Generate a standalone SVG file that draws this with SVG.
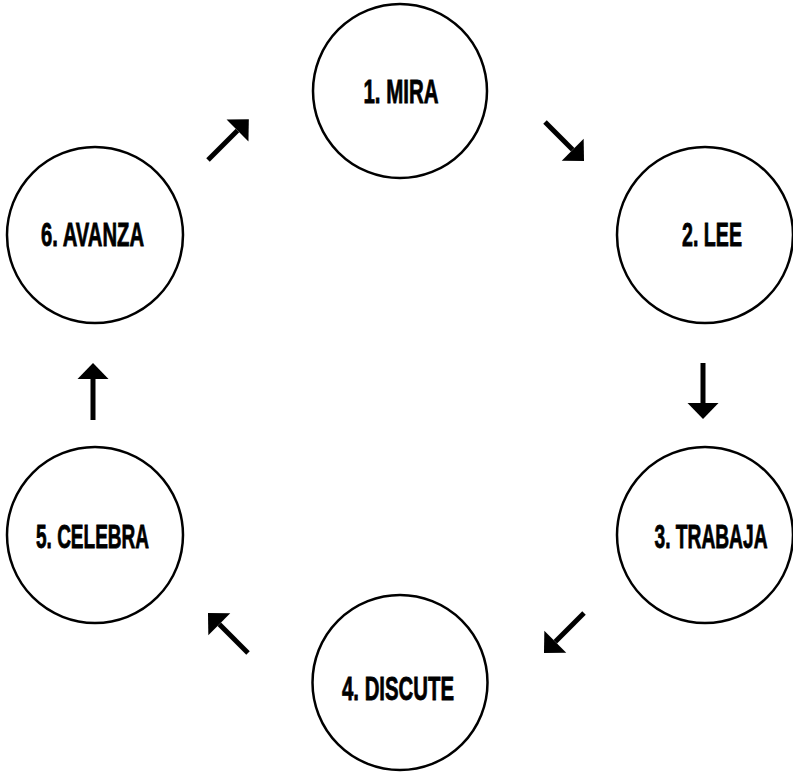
<svg xmlns="http://www.w3.org/2000/svg" width="793" height="772" viewBox="0 0 793 772">
<style>
.node circle{fill:#fff;stroke:#000;stroke-width:2.5}
.node text{font-family:"Liberation Sans",Arial,sans-serif;font-weight:bold;font-size:33px;fill:#000;stroke:#000;stroke-width:0.8;text-anchor:middle}
.conn line{stroke:#000;stroke-width:5;fill:none;marker-end:url(#head)}
</style>
<defs>
<marker id="head" markerUnits="userSpaceOnUse" viewBox="0 -16 16 32" refX="0" refY="0" markerWidth="16" markerHeight="32" orient="auto" overflow="visible">
<path d="M0,-15.5 L16,0 L0,15.5 Z" fill="#000"/>
</marker>
</defs>
<rect width="793" height="772" fill="#fff"/>
<g id="connectors" class="conn">
<line x1="208" y1="160" x2="237.5" y2="130.5"/>
<line x1="545" y1="122" x2="572.7" y2="149.7"/>
<line x1="703" y1="363" x2="703" y2="403"/>
<line x1="584" y1="613" x2="555.3" y2="641.7"/>
<line x1="248" y1="653" x2="219.3" y2="624.3"/>
<line x1="93" y1="420" x2="93" y2="379"/>
</g>
<g id="n1" class="node"><circle cx="400" cy="91" r="87"/><text x="401" y="103" textLength="75" lengthAdjust="spacingAndGlyphs">1. MIRA</text></g>
<g id="n2" class="node"><circle cx="705" cy="235" r="88"/><text x="712" y="246" textLength="60" lengthAdjust="spacingAndGlyphs">2. LEE</text></g>
<g id="n3" class="node"><circle cx="705" cy="535" r="88"/><text x="711" y="548" textLength="113" lengthAdjust="spacingAndGlyphs">3. TRABAJA</text></g>
<g id="n4" class="node"><circle cx="400" cy="682.5" r="87.5"/><text x="398" y="700" textLength="112" lengthAdjust="spacingAndGlyphs">4. DISCUTE</text></g>
<g id="n5" class="node"><circle cx="95" cy="535" r="88"/><text x="92.5" y="548" textLength="113" lengthAdjust="spacingAndGlyphs">5. CELEBRA</text></g>
<g id="n6" class="node"><circle cx="95" cy="235" r="88"/><text x="92.5" y="246" textLength="103" lengthAdjust="spacingAndGlyphs">6. AVANZA</text></g>
</svg>
